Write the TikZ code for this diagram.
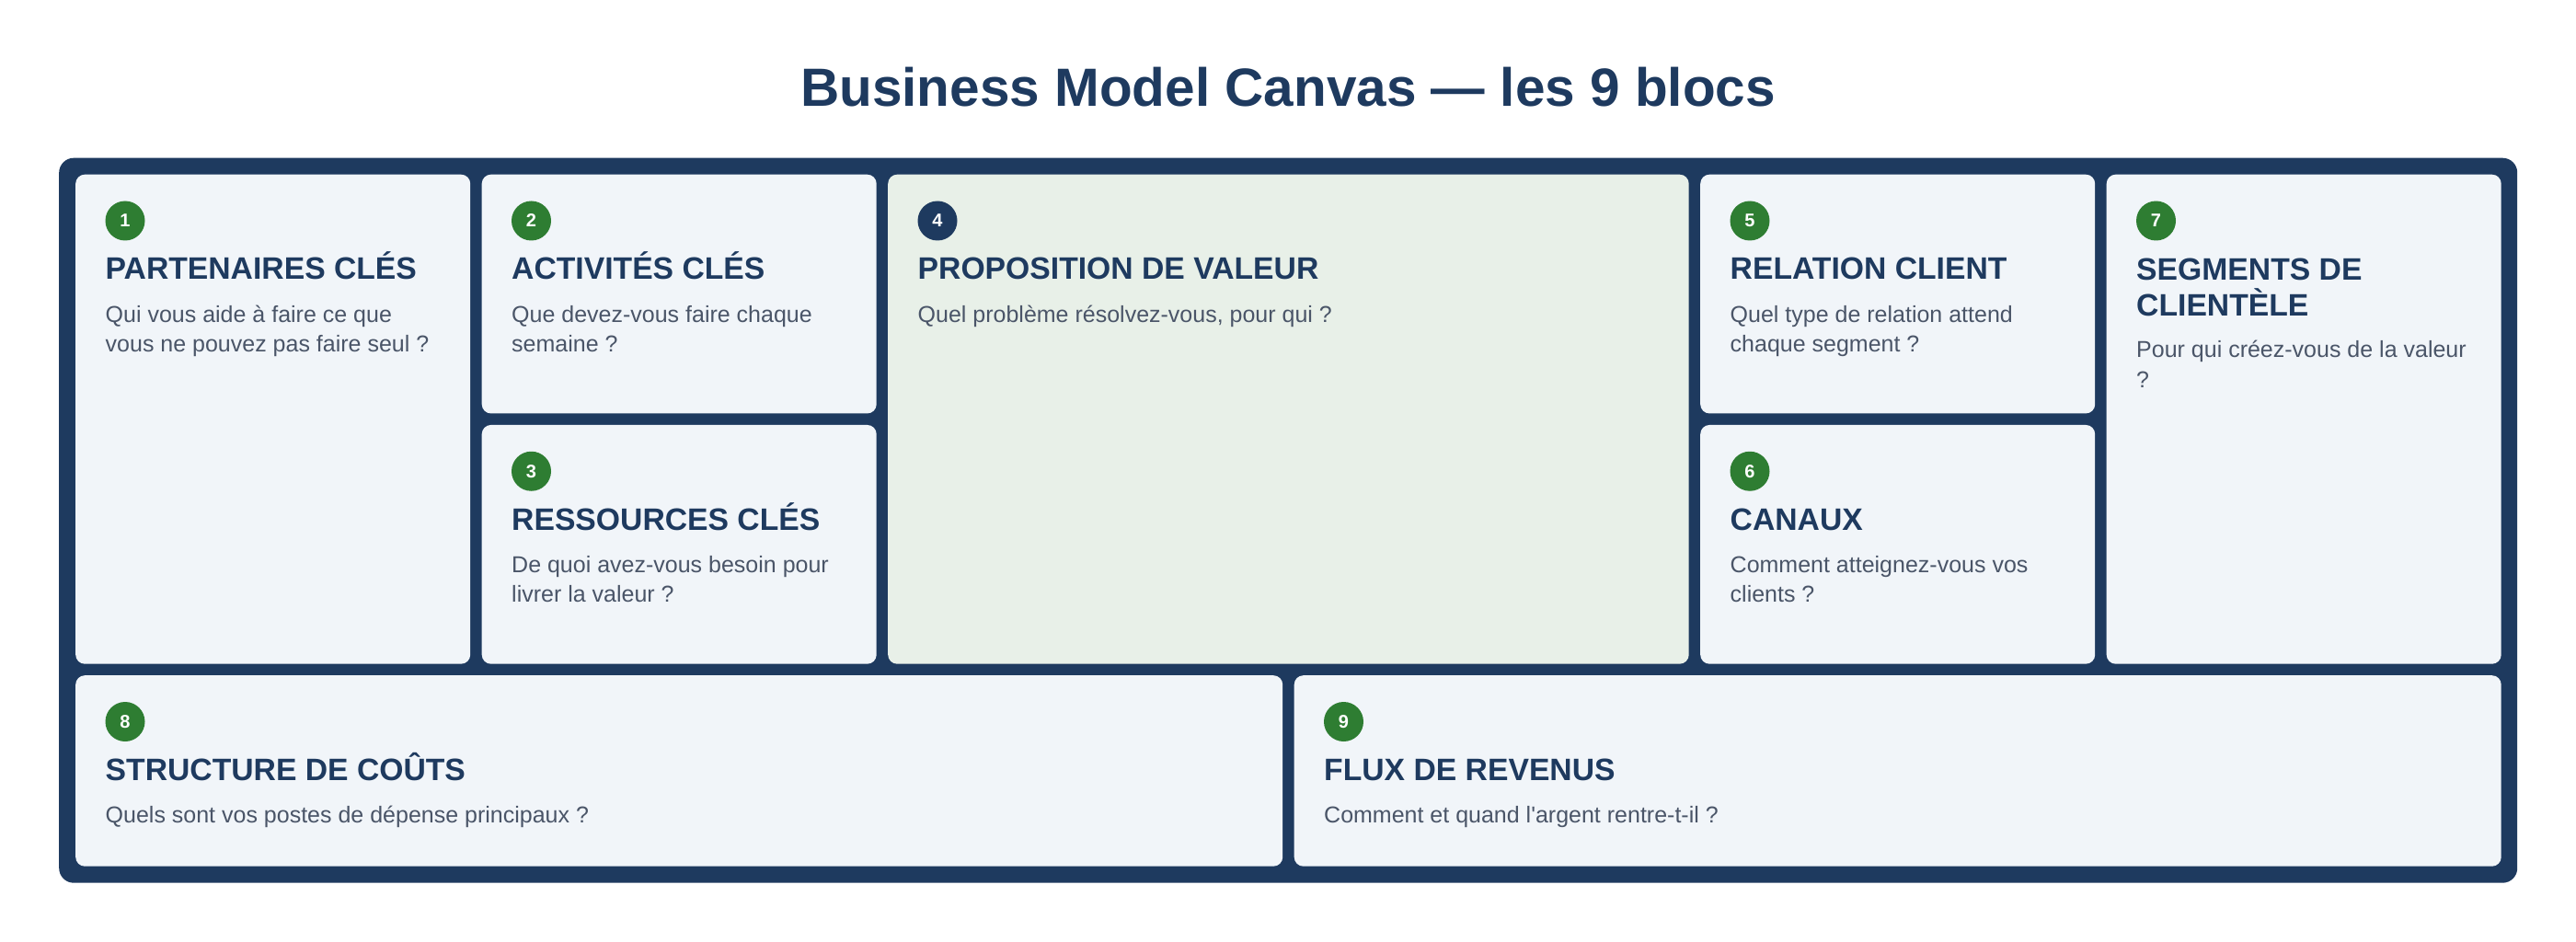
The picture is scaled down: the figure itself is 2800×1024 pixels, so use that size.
\documentclass[tikz,border=0pt]{standalone}
\usepackage{fontspec}
\newfontfamily\bmfont{Liberation Sans}
\definecolor{navy}{HTML}{1E3A5F}
\definecolor{cardbg}{HTML}{F1F5F9}
\definecolor{valuebg}{HTML}{E8F0E8}
\definecolor{badgegreen}{HTML}{2E7D32}
\definecolor{desctext}{HTML}{4A5568}
\tikzset{
  framebox/.style={fill=navy, rounded corners=16pt, inner sep=0pt, anchor=north west},
  cardbox/.style={fill=cardbg, rounded corners=10pt, inner sep=0pt, anchor=north west},
  badge/.style={circle, inner sep=0pt, minimum size=43pt, text=white, font=\bmfont\fontsize{20}{24}\selectfont\bfseries},
  cardtitle/.style={anchor=base west, inner sep=0pt, align=left, text=navy, font=\bmfont\fontsize{33.7}{39.5}\selectfont\bfseries},
  carddesc/.style={anchor=base west, inner sep=0pt, align=left, text=desctext, font=\bmfont\fontsize{25}{32.5}\selectfont},
}
% #1 card, #2 badge colour, #3 number, #4 title, #5 title last-baseline offset, #6 desc last-baseline offset, #7 desc
\newcommand\bmcontent[7]{%
  \node[badge, fill=#2] (#1-n) at ([shift={(54,50.5)}]#1.north west) {#3};
  \node[cardtitle] (#1-t) at ([shift={(32.5,#5)}]#1.north west) {#4};
  \node[carddesc] (#1-d) at ([shift={(32.5,#6)}]#1.north west) {#7};
}
\begin{document}
\begin{tikzpicture}[x=1pt,y=-1pt]
\fill[white] (0,0) rectangle (2800,1024);
\useasboundingbox (0,0) rectangle (2800,1024);
\node[anchor=base, inner sep=0pt, text=navy, font=\bmfont\fontsize{58.5}{70}\selectfont\bfseries] (title) at (1400,116) {Business Model Canvas — les 9 blocs};
\node[framebox, minimum width=2672pt, minimum height=788pt] (frame) at (64,171.5) {};
% top band
\node[cardbox, minimum width=429pt, minimum height=532pt] (c1) at (82,189.5) {};
\node[cardbox, minimum width=429pt, minimum height=259.75pt] (c2) at (523.5,189.5) {};
\node[cardbox, minimum width=429pt, minimum height=259.75pt] (c3) at (523.5,461.75) {};
\node[cardbox, fill=valuebg, minimum width=870.5pt, minimum height=532pt] (c4) at (965,189.5) {};
\node[cardbox, minimum width=429pt, minimum height=259.75pt] (c5) at (1848,189.5) {};
\node[cardbox, minimum width=429pt, minimum height=259.75pt] (c6) at (1848,461.75) {};
\node[cardbox, minimum width=429pt, minimum height=532pt] (c7) at (2289.5,189.5) {};
% bottom band
\node[cardbox, minimum width=1312pt, minimum height=207.5pt] (c8) at (82,734) {};
\node[cardbox, minimum width=1312pt, minimum height=207.5pt] (c9) at (1406.5,734) {};
\bmcontent{c1}{badgegreen}{1}{PARTENAIRES CLÉS}{114.5}{193}{Qui vous aide à faire ce que\\vous ne pouvez pas faire seul ?}
\bmcontent{c2}{badgegreen}{2}{ACTIVITÉS CLÉS}{114.5}{193}{Que devez-vous faire chaque\\semaine ?}
\bmcontent{c3}{badgegreen}{3}{RESSOURCES CLÉS}{114.5}{193}{De quoi avez-vous besoin pour\\livrer la valeur ?}
\bmcontent{c4}{navy}{4}{PROPOSITION DE VALEUR}{114.5}{160.5}{Quel problème résolvez-vous, pour qui ?}
\bmcontent{c5}{badgegreen}{5}{RELATION CLIENT}{114.5}{193}{Quel type de relation attend\\chaque segment ?}
\bmcontent{c6}{badgegreen}{6}{CANAUX}{114.5}{193}{Comment atteignez-vous vos\\clients ?}
\bmcontent{c7}{badgegreen}{7}{SEGMENTS DE\\CLIENTÈLE}{154}{231.5}{Pour qui créez-vous de la valeur\\?}
\bmcontent{c8}{badgegreen}{8}{STRUCTURE DE COÛTS}{114.5}{160.5}{Quels sont vos postes de dépense principaux ?}
\bmcontent{c9}{badgegreen}{9}{FLUX DE REVENUS}{114.5}{160.5}{Comment et quand l'argent rentre-t-il ?}
\end{tikzpicture}
\end{document}
